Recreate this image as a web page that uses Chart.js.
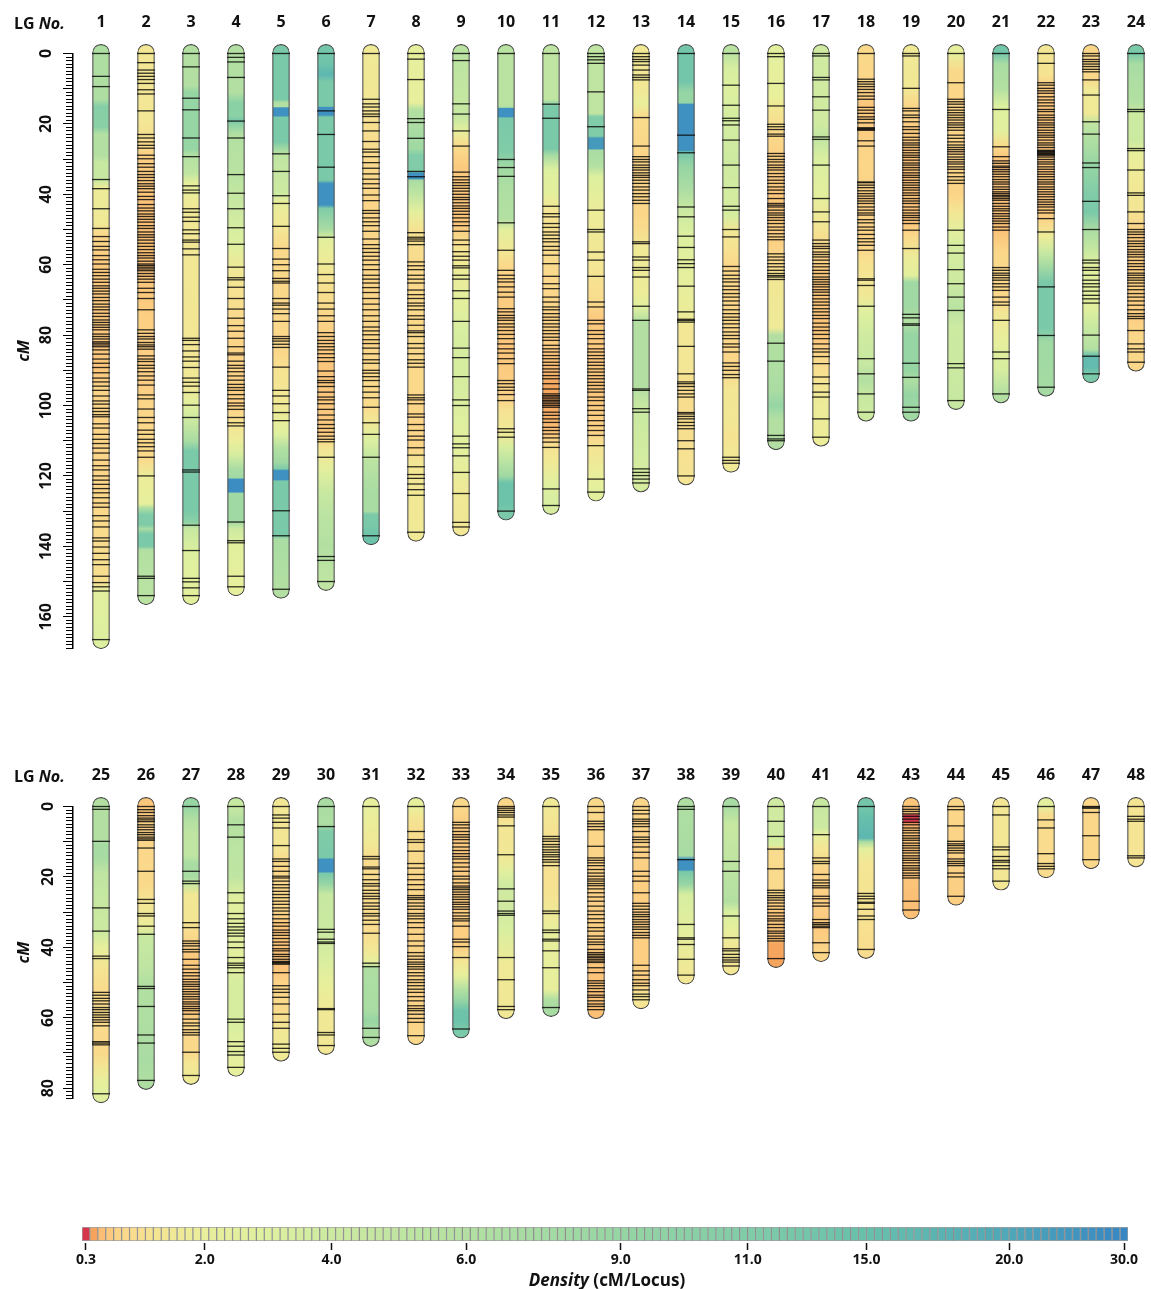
<!DOCTYPE html>
<html>
<head>
<meta charset="utf-8">
<title>Linkage map</title>
<script src="https://cdn.jsdelivr.net/npm/chart.js@4.4.1/dist/chart.umd.min.js"></script>
<style>
  body { margin: 0; background: #fff; font-family: 'Open Sans', 'DejaVu Sans', sans-serif; }
  #page { position: relative; width: 1151px; height: 1289px; overflow: hidden; }
  canvas { position: absolute; left: 0; }
  .lg { position: absolute; left: 14px; font-size: 16px; font-weight: bold; line-height: 20px; color: #111; }
  .cbTitle { position: absolute; left: 457px; width: 300px; top: 1269px; text-align: center; font-size: 17px; font-weight: bold; line-height: 22px; color: #111; }
</style>
</head>
<body>
<div id="page">
  <canvas id="topChart" width="1151" height="660" style="top:0px"></canvas>
  <canvas id="bottomChart" width="1151" height="360" style="top:753px"></canvas>
  <canvas id="scaleChart" width="1151" height="89" style="top:1200px"></canvas>
  <div class="lg" style="top:13px">LG <i>No.</i></div>
  <div class="lg" style="top:766px">LG <i>No.</i></div>
  <div class="cbTitle"><i>Density</i> (cM/Locus)</div>
</div>
<script>
// ---- data ----
var lgTop = ['1','2','3','4','5','6','7','8','9','10','11','12','13','14','15','16','17','18','19','20','21','22','23','24'];
var lgBottom = ['25','26','27','28','29','30','31','32','33','34','35','36','37','38','39','40','41','42','43','44','45','46','47','48'];

var lengthTop = [166.5, 154, 154, 151.5, 152.2, 150, 137, 136, 134.5, 130, 128.4, 124.6, 122, 120, 116.4, 110, 109, 101.9, 101.9, 98.6, 96.7, 94.8, 91, 87.7];
var lengthBottom = [81.6, 77.8, 76.4, 74.1, 69.8, 67.9, 65.6, 65.1, 63.2, 57.7, 57.1, 57.7, 54.9, 47.9, 45.3, 43.2, 41.5, 40.6, 29.4, 25.5, 21.2, 17.7, 15.1, 14.6];

// marker (locus) positions in cM
var markersTop = [
  [0,6.5,9.4,35.8,38.4,44.1,49.7,52,53.4,54.8,55.8,57.4,58.6,59.8,61.3,62.2,63.1,64.1,65,66,66.7,67.5,68.3,69.3,70.2,71.2,72,72.8,73.8,74.7,75.7,76.4,77.1,77.8,78.5,79.7,80.4,81.1,81.9,82.3,82.8,83.3,84.2,85.4,86.8,88,89.2,90.7,92.2,93.3,94.5,95.7,97.3,98.7,99.6,100.8,101.7,102.6,103.2,105.2,106.4,108.2,109.6,110.8,112.1,113.5,115.5,117.1,118.3,120,121.2,122.4,123.6,124.8,126.2,127.7,128.9,131.3,132.8,134.5,137.6,138.5,140.2,142,143.8,145.2,148.5,150.3,151.5,152.7,166.5],
  [0,2.6,4.7,5.6,6.5,7.4,8.5,10.3,11.5,16.3,23,24,25.1,26.1,26.9,28.9,29.9,31.3,32.3,33.5,34.4,35.2,36.1,37,37.7,38.4,39.4,40.6,41.5,42.9,43.9,44.7,45.6,46.3,47.1,47.9,48.9,49.7,50.7,51.5,52.2,53,53.9,54.8,55.7,56.6,57.4,58.1,59,59.8,60.2,60.7,61.2,61.7,62.5,63.3,64.1,65,66.7,67.9,69.6,72.8,78.5,79.5,80.4,81.1,82.1,82.8,83.3,84,85.9,86.8,87.5,88.6,89.4,90.4,91.6,92.8,94.2,97,98.1,101,103.4,104.9,107,108.2,109.6,110.6,111.7,112.9,114.7,120,148.5,149.1,154],
  [0,3.8,12.7,16,24,29.3,37.6,38.8,39.6,44.1,45.1,46.5,47.7,50.1,51.2,53,53.6,55.5,57.2,80.9,81.5,82.7,84.5,86.2,87.4,89.2,92.2,93.4,94.5,96.3,99.9,103.4,118.3,118.9,134,141.2,149.1,150.1,151.8,154],
  [0,1.1,2.4,6.8,19.2,24,34.4,39.7,44.1,49.5,54.2,60.7,63.7,64.3,66.4,69.6,72.6,75.2,77.3,78.9,80.9,83.3,85.1,85.6,87.4,88.6,89.4,90.4,91.6,92.8,94,94.9,95.7,96.9,98.1,99.3,100.1,101.1,103.4,104.9,105.8,133.1,138.4,139,148.5,151.5],
  [0,28.5,33.5,40.4,42.6,49.1,55.4,58.4,60,61.7,63.9,64.7,65.2,69.6,70.9,71.5,72.6,73.9,76.1,80.4,81,81.7,82.6,83.5,89.1,95.7,97.3,99.5,102,104.3,129.9,137,152.2],
  [0,16.3,23,32.3,52.2,59.8,62.8,65.2,67.9,70.9,72.6,74.5,76.1,79.3,80.4,81.5,82.4,83.3,84.2,85.3,86.4,87.5,90.2,91.8,92.9,93.5,94.6,96.2,97.6,98.4,99.5,101.1,102.7,104.1,105.4,106.5,107.6,108.7,109.6,110.3,114.7,142.9,144,150],
  [0,13,14.3,15.2,16.3,17.2,17.9,19.6,22,25,27.2,28,29.3,31,32.6,34.2,35.7,37,38.3,40.2,41.8,44.6,45.4,46.7,47.8,48.9,50.5,52.7,54.3,55.4,56.5,57.6,58.7,60,61.4,63,64.1,65.2,66.5,67.9,69.6,71.2,72.8,74.5,76.1,77.7,78.8,79.9,81.3,82.4,83.7,85.3,87,88,90,90.8,91.8,92.9,94.6,96.2,97.8,100.5,104.9,108.2,114.7,137],
  [0,1.6,7.4,18.5,19.6,24.1,33.5,35,50.9,52.2,52.7,53.3,54.3,59.2,60.3,61.4,63,64.1,65.2,67.2,68.5,69.6,70.9,71.7,72.8,74.5,75.5,77.2,78.8,79.3,80.4,82.4,83.7,85.3,87,88,89.1,97,97.8,98.4,99.5,102.4,103.3,105.4,107.1,108.7,109.8,112,114.1,117.4,119.6,120.7,122.3,123.9,125.5,136],
  [0,2,14.3,17.2,22,26.3,33.7,35,35.9,36.7,37.5,38.3,39.1,40,40.9,41.5,42.4,43.3,44,44.8,45.7,46.7,47.8,48.9,50.5,53,54.3,56.3,57.6,58.7,60.3,60.9,63,64.1,67.4,69.6,76.1,83.7,86.4,91.8,98.4,100,108.7,110.9,112,114.3,119,125,133.2,134.5],
  [0,30.1,32.4,34.9,48.1,55.9,61.6,63,64,64.9,66.3,67.8,69.2,72.5,73.4,74.4,75.1,75.8,76.8,77.7,78.7,79.8,81,82.5,83.9,85.1,86.7,88.1,92.9,93.8,94.8,95.7,96.9,98.6,106.6,107.6,109,130],
  [0,14.4,18.4,43.4,45.5,46.4,48.3,49.4,50.7,51.6,52.6,53.5,54.8,55.9,57.3,59.7,63.3,65.4,66.8,69.2,70.6,72,72.8,73.9,74.9,75.8,76.8,77.7,78.7,79.6,80.6,81.5,82.9,83.9,84.8,85.8,86.7,87.7,88.6,89.6,90.5,91.5,92.4,93.8,95.3,96.7,97.2,97.6,98.1,98.6,99,99.5,100,100.5,101.9,102.8,103.8,104.8,106.2,107.1,108.1,109.2,110.4,111.9,123.7,128.4],
  [0,0.9,1.8,2.8,10.9,20.8,44.5,50,50.7,56.4,58.7,63.3,70.6,72,75.8,76.8,78.7,79.8,81,82.5,83.9,84.8,85.8,86.7,87.7,88.6,89.6,90.5,91.5,92.4,93.4,94.3,95.3,96.2,97.6,98.6,100,101.4,102.8,104.3,105.7,107.1,108.5,111.4,120.9,124.6],
  [0,0.9,1.7,2.3,3.3,4.7,6.1,6.8,7.5,18.2,26.3,29.3,30.1,30.8,31.7,32.4,33.1,33.9,34.6,35.2,36,36.9,37.9,38.8,39.8,40.7,41.7,42.6,53.5,54,57.8,58.7,60.8,61.6,63.5,71.8,75.8,95.3,95.7,100.9,101.9,118,119,119.9,120.9,122],
  [0,23.2,28.2,43.6,46.4,51.9,55.1,58.6,59.7,60.8,66.1,73.4,75.5,75.8,76.3,83.2,91,93.3,93.8,94.6,95.7,96.7,97.6,102,102.4,103.1,103.8,104.8,105.7,106.6,110,112.3,120],
  [0,9,14.7,18.4,19.1,20.3,24.6,31.7,38.1,43.4,44.5,50,52.1,60.5,61.8,63,64,64.9,66.1,67.1,68.2,69.2,70.3,71.5,72.8,73.9,74.9,75.8,76.8,77.9,79.1,80.1,81,82.5,83.4,84.8,87.9,88.9,90,91.2,92.1,114.7,115.6,116.4],
  [0,0.9,8.5,14.9,20.1,20.8,21.6,22.9,23.5,28.4,29.2,30.1,30.8,31.7,32.4,33.1,34.1,35,36,36.9,37.9,38.8,39.8,41.2,42.6,43.1,43.6,44.5,45.3,45.9,46.6,47.4,48.3,49.3,50.2,51.2,52.1,52.9,56.9,57.8,58.7,59.7,60.6,61.6,62.5,63.1,63.5,64.2,82.3,87.4,108.5,109.5,110],
  [0,0.7,6.8,7.5,12.3,16.1,23.7,24.4,31.7,41.2,45,47.8,53,54,54.8,55.4,56.4,57.1,57.8,58.7,59.7,60.6,61.6,62.5,63.5,64.2,64.9,65.6,66.3,67.1,67.8,68.7,69.7,70.6,71.5,72.5,73.4,74.4,75.3,76.6,77.7,78.7,79.8,81,82.5,83.9,84.8,86.1,88.1,91.9,93.8,96.2,97.6,103.8,109],
  [0,7.3,8,8.7,9.4,10.2,11.1,12.1,13,15.3,16.1,17,18,18.7,19.7,21.1,21.3,21.6,21.8,24.8,26.3,36.5,36.7,37.4,38.1,39,39.8,40.5,41.2,41.9,42.6,43.6,44.5,45.3,45.9,47.2,48.1,49.3,50.2,51.4,52.6,53.5,54.5,55.9,64,64.4,65.9,71.8,86.7,91,96.7,101.9],
  [0,0.7,9.9,15.6,16.3,17.5,18.2,19.4,20.8,21.6,22.7,23.8,24.6,25.4,26,26.7,27.5,28.2,28.9,29.5,30.3,31.1,31.7,32.4,33.1,33.9,34.6,35.2,36,36.7,37.4,38.1,38.8,39.6,40.3,41.2,41.9,42.6,43.6,44.5,45.3,46,46.6,47.4,48.3,50.2,55.4,74.1,75.1,76.8,77.2,88,92,100.5,101.9],
  [0,8.3,13,13.7,14.4,15.3,16.1,16.8,17.5,18.2,18.9,19.7,20.3,21,21.8,23.2,24.1,25.1,26,26.7,27.3,27.9,28.6,29.4,30.1,30.8,31.4,32.2,32.9,33.9,35,36,36.9,50.2,54.5,56.7,61.4,65.4,69.2,73,88.1,89.3,98.6],
  [0,15.9,26.5,29.3,30.5,31.2,32,32.4,33,33.6,34.3,35,35.8,36.5,37.1,37.9,38.6,39.3,39.8,40.3,40.7,41.2,41.7,42.6,43.4,44.1,44.7,45.5,46.2,46.9,47.6,48.3,49.3,50.2,60.8,61.6,62.4,63,63.7,64.4,65.4,66.3,67.3,69.2,70.6,71.5,75.8,84.8,86.7,96.7],
  [0,2.8,8.3,9,9.9,10.6,11.3,12.3,13.2,14,14.9,15.9,16.5,17.5,18.2,18.9,19.7,20.3,21,21.8,22.5,23.2,23.8,24.6,25.4,26,26.7,27.5,27.7,27.9,28.2,28.4,28.7,28.9,29.4,30.1,30.8,31.4,32.2,32.9,33.6,34.3,35,35.8,36.5,37.1,37.9,38.6,39.3,40,40.7,41.5,42.2,42.9,43.6,44.5,45.3,46.9,50.7,66.3,80.1,94.8],
  [0,0.7,1.7,2.3,3,3.7,4.5,5.2,7.5,11.8,19.4,22.9,31.1,32.4,42,50,58.7,59.5,60.8,61.6,63,64.4,65.4,66.3,67.5,68.7,69.7,70.9,80,86,91],
  [0,15.9,16.5,27,27.6,33.1,39.6,40.3,45,48.3,50,50.7,51.4,52.3,53.3,54,54.8,55.7,56.4,57.1,57.8,58.8,59.7,60.5,61.4,62.4,63,63.7,64.4,65.2,66.1,67.1,68.2,69.2,70.3,71.5,72.8,73.9,74.7,75.3,78.7,82.5,83.9,84.8,87.7]
];

var markersBottom = [
  [0,0.8,9.9,28.8,35.4,42.5,43.2,52.8,53.6,54.5,55.2,56.1,57.1,57.7,58.5,59.2,59.9,60.6,61.3,62.3,66.8,67.2,67.7,81.6],
  [0,0.9,1.7,2.6,3.3,3.8,4.3,5.2,5.9,6.6,7.4,8,8.7,9.2,9.6,11.8,18.4,26.4,27.5,30.4,31.1,34,36.3,51.1,51.7,56.8,64.9,67.2,77.8],
  [0,18.4,21.2,21.9,33,34.4,38.2,38.9,39.6,40.6,41.3,43.4,45.1,46.2,47.2,48.1,49.1,49.8,50.5,51.1,51.9,52.6,53.3,54,54.7,55.5,56.1,56.8,57.4,58,59,60.4,61.5,62.3,63.4,64.2,64.9,69.8,76.4],
  [0,5.2,8.7,24.5,27.4,30.4,31.9,33.2,34.2,35.1,36,36.8,38.5,40.1,42.9,44.5,45.1,45.8,47.2,60.4,61.3,66.8,68.1,69.6,70.6,74.1],
  [0,2.4,3.3,4.5,6.1,11.1,14.9,15.6,17,18.4,19.8,20.3,21.2,22.2,23.1,24.1,25,25.9,26.9,27.8,28.8,29.7,30.7,31.9,33,34,35.1,35.8,36.6,37.5,38.5,39.4,40.4,41,42,42.6,43.4,44,44.3,44.5,44.8,47.2,50.9,51.9,52.8,54.2,56.1,59,61.3,63,67.5,68.7,69.8],
  [0,5.7,34.9,35.7,37.7,38.5,38.9,57.4,57.7,64.2,64.9,67.9],
  [0,14.2,14.9,17.2,17.7,19.3,20.8,21.9,22.6,23.8,24.7,25.5,26.2,27.4,28.3,29.2,30.4,31.1,32.3,33.5,36,44.5,45.5,63,65.6],
  [0,7.1,9.4,10.2,12.7,16.2,17.5,19.3,20.8,22.2,23.6,25.3,25.9,26.4,27.4,28.3,29.2,30.4,31.1,31.9,33,34.4,36.3,38.2,39.6,41.5,42.5,43.4,44.2,44.8,45.5,46.2,47.2,48.1,49.2,50,50.9,51.9,52.8,54,55.2,56.6,57.4,58,59,60.2,61.3,65.1],
  [0,4.5,5.2,6.1,7.1,8,8.7,9.4,10.4,11.5,12.5,13.4,14.2,14.9,16,17.2,18.4,19.8,20.6,21.7,22.6,23.1,23.6,24.3,25,25.7,26.4,27.2,27.8,28.5,29.2,30.2,31.1,31.9,32.5,34,37.7,38.5,39.8,42.9,63.2],
  [0,0.5,1.1,1.7,2.4,3,5.5,13.7,23.4,26.9,29.7,30.4,30.9,42.9,49.2,56.8,57.7],
  [0,8.5,9.2,9.9,10.8,11.5,12.3,13,13.7,14.3,15.1,15.8,16.8,29.7,30.4,35.1,35.8,37.7,38.2,41,45.8,57.1],
  [0,1.7,4.2,4.9,5.7,6.6,11.3,14.6,15.3,16,16.8,17.9,18.9,19.8,20.6,21.2,21.9,22.5,23.4,24.5,25.7,26.9,28.3,29.7,30.7,31.9,33,34.4,35.4,36.8,37.7,38.5,39.2,40.6,41.5,42,42.5,42.9,43.4,43.9,44.3,45.8,47.2,49.5,50.2,50.9,51.7,52.6,53.6,54.2,55.2,56.1,56.8,57.7],
  [0,1.1,2.1,3.6,4.2,4.9,5.7,7.1,8.7,9.4,10.2,11.5,13,14.6,18.4,19.8,21.2,24.5,27.5,28.3,29.2,30,30.7,31.3,32.1,32.8,33.5,34.2,34.9,35.8,36.6,37.3,45.1,46.7,47.9,49.2,50.2,50.9,52.1,53.3,54,54.9],
  [0,0.8,15.1,33.5,37.3,37.7,39.2,43.4,47.9],
  [0,15.6,18.4,31.1,37.3,40.4,41,42,42.9,43.6,44.2,45.3],
  [0,4.2,8.5,12.1,17.7,23.8,24.5,25.3,25.9,26.6,27.4,28.3,29.2,30.2,31.1,31.9,32.5,33.5,34.4,35.4,36,36.8,37.5,38.2,43.2],
  [0,8,14.6,15.6,16.2,19.3,20.9,21.7,22.5,23.1,25.5,26.2,27.4,28.3,32.1,33,33.5,34,34.4,38.7,41.5],
  [0,24.7,25.5,26.2,27.2,27.5,29.2,31.1,32.1,40.6],
  [0,0.8,1.4,2.1,2.8,3.6,4.5,5.2,6.1,6.8,7.5,8.3,9,9.6,10.4,11.1,11.8,12.5,13.2,14,14.7,15.3,16,16.8,17.5,18.1,18.9,19.6,20.3,26.9,29.4],
  [0,0.9,5.5,9.9,10.6,11.1,11.8,12.5,13.2,14.9,15.6,16.2,16.8,18.9,20,25.5],
  [0,2.4,11.5,12.3,14.2,15.3,15.8,16.8,17.7,21.2],
  [0,3.8,6.1,13.4,16.2,17,17.7],
  [0,0.2,0.5,1.7,8.3,15.1],
  [0,2.8,3.6,4.2,14,14.6]
];

// local density along each group: [cM, cM/locus]
var densityTop = [
  [[0,6.5],[13,6.5],[15,10.5],[21,10],[23,6],[29,6],[31,4.5],[36,4.5],[38,1.8],[48,1.6],[52,0.85],[60,0.65],[90,0.62],[95,0.75],[125,0.8],[135,0.95],[150,1.1],[153,2.6],[166.5,3]],
  [[0,1.4],[20,1.4],[25,1.0],[30,0.7],[45,0.55],[60,0.55],[75,0.7],[95,0.68],[100,0.8],[115,0.9],[120,1.8],[128,2.2],[129,6],[131,11],[134,11],[135,7],[136.5,12],[140,12],[141,6],[154,5.5]],
  [[0,6],[9,6],[11,9],[27,9],[29,6],[34,5],[37,2.2],[45,1.5],[60,1.5],[80,1.4],[95,1.6],[100,2.8],[105,4.5],[110,7],[113,12],[130,12],[133,10],[135,4.5],[142,3],[154,2.4]],
  [[0,6],[11,6],[14,10],[18,10],[19,13],[20,10],[23,6],[35,5.5],[45,4],[55,2.8],[62,1.5],[70,1.1],[80,0.75],[100,0.7],[105,1.2],[110,1.9],[114,3.5],[118,7],[120.5,8],[121,28],[124.5,28],[125,8],[133,8],[135,4],[140,2.6],[151.5,2.2]],
  [[0,12],[13,12],[14,6],[15.2,6],[15.4,27],[17.8,27],[18,12],[25,12],[27,8],[29,5],[40,4],[42,2.2],[50,1.4],[55,0.9],[85,0.85],[90,1.2],[100,1.6],[108,2.8],[112,6],[116,8],[118,11],[118.5,27],[121,27],[121.5,12],[137,12],[138,7],[152.2,6]],
  [[0,13],[3,14],[6,17],[8,12],[15,12],[15.3,27],[17.5,27],[18,12],[36,12],[37,27],[43,27],[44,11],[50,7],[53,2.5],[58,1.8],[65,1.2],[80,0.7],[90,0.6],[108,0.65],[112,1.3],[118,2.5],[125,4.5],[132,5.5],[140,6],[150,5]],
  [[0,1.6],[12,1.5],[20,1.1],[40,0.8],[80,0.8],[100,0.95],[105,1.6],[110,3.2],[116,5.5],[125,7],[130,7],[131,12],[134,12],[137,14]],
  [[0,2.2],[14,2.2],[16,6],[22,7],[27,8],[29,11],[33.5,11],[34,27],[35.5,27],[36,7],[40,5],[45,2.5],[50,1.2],[60,0.9],[95,0.9],[100,0.75],[112,0.8],[116,1.4],[136,1.6]],
  [[0,5.5],[5,5],[18,4.5],[22,2.5],[26,1.0],[32,0.65],[48,0.6],[55,1.2],[62,1.8],[72,2.6],[80,3.5],[95,3.5],[105,2.8],[115,2.4],[125,1.6],[134.5,1.5]],
  [[0,5.5],[14,5.5],[15.3,6],[15.5,27],[18,27],[18.3,12],[28,11],[32,8],[38,6.5],[47,6],[50,2.5],[56,1.5],[60,0.9],[65,0.7],[85,0.6],[98,0.75],[102,1.3],[108,1.6],[112,3.5],[117,6],[120,8],[122,14],[128,14],[130,12]],
  [[0,5],[13,5],[15,12],[27,12],[29,7],[33,3],[40,2.5],[44,1.4],[55,1.0],[70,0.85],[82,0.7],[88,0.55],[95,0.42],[102,0.45],[108,0.6],[112,1.2],[116,1.6],[122,2.8],[128.4,3.5]],
  [[0,5],[12,5],[17,5],[18,11],[23.5,11],[24,24],[27,24],[27.5,7],[32,6],[35,3],[45,1.8],[60,1.4],[70,1.0],[75,0.65],[95,0.6],[108,0.75],[112,1.3],[120,2],[124.6,2.6]],
  [[0,1.5],[10,1.5],[14,2.0],[18,1.0],[28,0.8],[45,0.8],[50,1.0],[55,1.6],[68,1.8],[72,2.8],[76,6],[95,6],[100,4.5],[110,3.8],[122,3.5]],
  [[0,13],[8,13],[11,9],[14,9],[14.5,27],[27.5,27],[28,13],[32,9],[38,7],[45,4],[52,3],[62,2.4],[74,1.8],[78,1.4],[90,1.4],[95,1.0],[110,1.1],[120,1.3]],
  [[0,5.5],[4,3.5],[10,3],[16,3.5],[30,4],[46,3.5],[50,1.5],[55,1.2],[60,0.85],[90,0.8],[95,1.4],[104,1.5],[108,1.2],[116.4,1.6]],
  [[0,2.4],[12,2.0],[16,1.4],[22,0.9],[30,0.7],[40,0.6],[53,0.7],[58,0.85],[65,1.5],[78,1.7],[80,6],[92,6.5],[96,7],[100,9],[104,6],[110,6]],
  [[0,3.8],[20,3.8],[24,5],[30,3.2],[40,2.5],[48,1.5],[55,0.9],[65,0.6],[80,0.6],[86,0.85],[92,1.2],[100,1.8],[109,1.8]],
  [[0,0.9],[8,0.8],[15,0.6],[28,0.75],[33,0.8],[40,0.7],[55,0.75],[60,1.2],[68,1.5],[73,2.8],[80,3.8],[88,4.5],[93,6],[97,4.5],[101.9,4]],
  [[0,1.6],[10,1.5],[15,0.8],[30,0.55],[48,0.6],[52,0.9],[58,1.8],[63,2.5],[65,8],[72,8],[76,6],[80,9],[90,9],[93,6.5],[97,9],[101.9,8]],
  [[0,2.2],[5,0.9],[15,0.75],[40,0.75],[45,1.4],[50,2.4],[55,3.5],[65,4],[72,5.5],[78,4],[90,4.2],[98.6,4.5]],
  [[0,13],[3,7],[10,6],[15,3],[22,2.6],[26,1.0],[30,0.6],[50,0.55],[56,0.8],[60,0.9],[70,0.8],[74,1.5],[82,2.2],[90,3.5],[96.7,6]],
  [[0,1.4],[6,1.2],[10,0.65],[20,0.6],[45,0.6],[48,0.9],[52,1.8],[56,4],[60,7],[65,12],[78,12],[82,8],[94.8,7.5]],
  [[0,0.8],[7,0.9],[10,1.6],[17,1.6],[20,5],[25,6.5],[32,9],[40,11],[45,12],[50,7],[56,4.5],[60,2.8],[72,2.6],[78,4.5],[84,6],[86,16],[89,16],[91,12]],
  [[0,12],[3,7],[14,6],[17,4],[25,4],[28,2.2],[36,1.6],[44,1.4],[48,0.9],[52,0.65],[75,0.7],[80,0.85],[87.7,0.85]]
];

var densityBottom = [
  [[0,6],[9,6],[11,7.5],[15,7],[19,5],[28,4.5],[36,4],[40,2.2],[45,1.4],[52,0.95],[70,0.9],[74,1.4],[78,2.2],[81.6,2.8]],
  [[0,0.6],[4,0.7],[12,0.85],[22,0.9],[28,1.4],[34,1.8],[37,4.5],[45,5],[50,6],[62,6.5],[72,7],[77.8,6.5]],
  [[0,9],[4,6],[8,5],[14,5],[16,7],[20,7],[22,4.5],[25,1.5],[32,1.4],[36,0.95],[42,0.65],[58,0.6],[62,0.8],[70,0.9],[73,1.4],[76.4,1.6]],
  [[0,4.5],[4,6],[10,5.5],[20,5],[26,2.8],[45,2.4],[50,3.5],[60,3.5],[66,2.8],[74.1,2.2]],
  [[0,1.5],[12,1.4],[16,0.9],[30,0.8],[34,0.6],[45,0.55],[50,0.75],[58,0.95],[64,1.5],[69.8,1.6]],
  [[0,7],[5,6.5],[7,11],[14.5,12],[15,27],[18.5,27],[19,12],[22,9],[25,4.5],[35,4.2],[42,3.5],[50,2.2],[57,1.6],[67.9,1.5]],
  [[0,2.2],[10,1.6],[15,1.0],[35,1.0],[40,1.4],[44,2.2],[46,6.5],[58,7],[61,9],[63,7],[65.6,6.5]],
  [[0,2.2],[3,1.4],[8,1.0],[20,0.8],[40,0.75],[62,0.75],[65.1,0.9]],
  [[0,0.9],[6,0.65],[40,0.7],[44,1.4],[48,2.2],[52,6],[55,9],[58,14],[61,14],[63.2,12]],
  [[0,0.8],[5,1.4],[14,1.5],[18,2.4],[22,3.8],[30,3.8],[35,3.3],[45,1.6],[57.7,1.5]],
  [[0,1.6],[10,1.1],[25,1.2],[30,1.6],[36,2.2],[52,2.2],[55,6.5],[57.1,7]],
  [[0,0.9],[5,0.8],[15,0.75],[35,0.7],[45,0.6],[57.7,0.55]],
  [[0,0.8],[5,0.75],[20,0.7],[50,0.7],[53,1.2],[54.9,1.3]],
  [[0,6.5],[14,7],[15,27],[18,27],[18.5,12],[22,9],[25,3.5],[35,2.4],[47.9,1.5]],
  [[0,7],[5,4.5],[15,5],[27,6],[30,3.3],[35,2.2],[40,1.5],[45.3,1.4]],
  [[0,3.8],[8,3.8],[11,3.3],[12,1.0],[25,0.9],[30,0.6],[38,0.55],[39,0.42],[43.2,0.42]],
  [[0,4.5],[6,4],[8,2.2],[12,1.4],[18,0.75],[35,0.65],[41.5,0.8]],
  [[0,13],[3,15],[9,17],[10,7],[12,2.5],[16,1.4],[30,1.2],[40.6,1.0]],
  [[0,0.6],[2,0.6],[2.5,0.3],[4.2,0.3],[5,0.45],[7,0.6],[20,0.6],[25,0.55],[29.4,0.55]],
  [[0,0.8],[25.5,0.7]],
  [[0,1.4],[21.2,1.4]],
  [[0,2.4],[2.5,1.0],[17.7,1.0]],
  [[0,0.85],[15.1,0.85]],
  [[0,1.3],[14.6,1.3]]
];

// colour key
var densityTicks = [0.3, 2.0, 4.0, 6.0, 9.0, 11.0, 15.0, 20.0, 30.0];
var densityTickCells = [0.5, 15.5, 31.5, 48.5, 68, 84, 99, 117, 131.5];
var paletteCells = [0.5, 1.5, 2.5, 4.5, 8.5, 15.5, 24.5, 31.5, 48.5, 68, 84, 99, 117, 131.5];
var paletteColors = ['#d6364c', '#f5a35d', '#fbbe74', '#fcd488', '#f6e392', '#e9ef9b', '#dcf0a0', '#cdeaa1', '#b3e0a2', '#96d5a4', '#80cca8', '#67c0ab', '#4fa7b8', '#3787c3'];
var keyCells = 132;

var FONT = "'Open Sans', 'DejaVu Sans', sans-serif";
var CAP = 2.6;

function hexRgb(h) {
  return [parseInt(h.slice(1, 3), 16), parseInt(h.slice(3, 5), 16), parseInt(h.slice(5, 7), 16)];
}

function colorForCell(c) {
  if (c <= paletteCells[0]) return paletteColors[0];
  for (var i = 1; i < paletteCells.length; i++) {
    if (c <= paletteCells[i]) {
      var t = (c - paletteCells[i - 1]) / (paletteCells[i] - paletteCells[i - 1]);
      var a = hexRgb(paletteColors[i - 1]), b = hexRgb(paletteColors[i]);
      return 'rgb(' + Math.round(a[0] + (b[0] - a[0]) * t) + ',' + Math.round(a[1] + (b[1] - a[1]) * t) + ',' + Math.round(a[2] + (b[2] - a[2]) * t) + ')';
    }
  }
  return paletteColors[paletteColors.length - 1];
}

function cellForDensity(d) {
  if (d <= densityTicks[0]) return densityTickCells[0];
  for (var i = 1; i < densityTicks.length; i++) {
    if (d <= densityTicks[i]) {
      var t = (d - densityTicks[i - 1]) / (densityTicks[i] - densityTicks[i - 1]);
      return densityTickCells[i - 1] + t * (densityTickCells[i] - densityTickCells[i - 1]);
    }
  }
  return densityTickCells[densityTickCells.length - 1];
}

function densityColor(d) {
  return colorForCell(cellForDensity(d));
}

function barGradient(ctx, lengths, density) {
  var chart = ctx.chart;
  var yScale = chart.scales && chart.scales.y;
  var i = ctx.dataIndex;
  if (!yScale || i === undefined || !chart.chartArea) return '#e9ef9b';
  var top = -CAP, bottom = lengths[i] + CAP;
  var p0 = yScale.getPixelForValue(top), p1 = yScale.getPixelForValue(bottom);
  if (!isFinite(p0) || !isFinite(p1) || p0 === p1) return '#e9ef9b';
  var g = chart.ctx.createLinearGradient(0, p0, 0, p1);
  density[i].forEach(function(stop) {
    var t = Math.min(1, Math.max(0, (stop[0] - top) / (bottom - top)));
    g.addColorStop(t, densityColor(stop[1]));
  });
  return g;
}

function buildPanel(canvasId, names, lengths, markers, density, yMax, labelPad, bottomPad) {
  var points = [];
  markers.forEach(function(list, i) {
    list.forEach(function(cm) { points.push({ x: i + 1, y: cm }); });
  });
  var bars = lengths.map(function(len, i) { return { x: i + 1, y: [-CAP, len + CAP] }; });

  return new Chart(document.getElementById(canvasId), {
    type: 'bar',
    data: {
      datasets: [{
        type: 'scatter',
        data: points,
        pointStyle: 'line',
        pointRadius: 9,
        pointHoverRadius: 9,
        pointBorderWidth: 1.3,
        pointBorderColor: 'rgba(10,10,10,0.85)',
        clip: false
      }, {
        type: 'bar',
        data: bars,
        barThickness: 17,
        borderRadius: 9,
        borderSkipped: false,
        borderWidth: 1.2,
        borderColor: '#4a4a4a',
        clip: false,
        backgroundColor: function(ctx) { return barGradient(ctx, lengths, density); }
      }]
    },
    options: {
      responsive: false,
      animation: false,
      events: [],
      layout: { autoPadding: false, padding: { top: 13.5, left: 0, right: 0, bottom: bottomPad } },
      plugins: { legend: { display: false }, tooltip: { enabled: false } },
      scales: {
        x: {
          type: 'linear',
          position: 'top',
          min: 0.3778,
          max: 24.3333,
          offset: false,
          grid: { display: false, drawTicks: false, offset: false },
          border: { display: false },
          ticks: {
            stepSize: 1,
            includeBounds: false,
            autoSkip: false,
            maxRotation: 0,
            padding: 21,
            color: '#111',
            font: { family: FONT, size: 16, weight: 'bold' },
            callback: function(v) {
              var k = Math.round(v);
              return Math.abs(v - k) < 1e-6 && names[k - 1] ? names[k - 1] : '';
            }
          },
          afterFit: function(scale) { scale.height = 40; scale.paddingLeft = 0; scale.paddingRight = 0; }
        },
        y: {
          type: 'linear',
          reverse: true,
          min: 0,
          max: yMax,
          border: { display: true, color: '#000', width: 1.5 },
          grid: {
            drawOnChartArea: false,
            drawTicks: true,
            tickLength: 10,
            tickColor: '#000',
            tickWidth: 1,
            tickBorderDash: function(ctx) {
              var v = ctx.tick ? ctx.tick.value : 0;
              return Math.abs(v / 10 - Math.round(v / 10)) < 1e-6 ? [] : [0, 3, 7, 50];
            }
          },
          ticks: {
            stepSize: 1,
            autoSkip: false,
            minRotation: 90,
            maxRotation: 90,
            crossAlign: 'center',
            padding: labelPad,
            color: '#111',
            font: { family: FONT, size: 16, weight: 'bold' },
            callback: function(v) {
              return Math.abs(v / 20 - Math.round(v / 20)) < 1e-6 ? String(v) : '';
            }
          },
          title: {
            display: true,
            text: 'cM',
            color: '#111',
            font: { family: FONT, size: 16, weight: 'bold', style: 'italic' },
            padding: { top: 15, bottom: 0 }
          },
          afterFit: function(scale) { scale.width = 73; scale.paddingTop = 0; scale.paddingBottom = 0; }
        }
      }
    }
  });
}

buildPanel('topChart', lgTop, lengthTop, markersTop, densityTop, 169, 3, 11.6);
buildPanel('bottomChart', lgBottom, lengthBottom, markersBottom, densityBottom, 83, 5, 14.3);

// colour key strip
var keyData = [];
for (var c = 0; c < keyCells; c++) keyData.push({ x: c + 0.5, y: 1 });

new Chart(document.getElementById('scaleChart'), {
  type: 'bar',
  data: {
    datasets: [{
      data: keyData,
      backgroundColor: keyData.map(function(p) { return colorForCell(p.x); }),
      borderColor: 'rgba(70,70,70,0.5)',
      borderWidth: 1,
      borderSkipped: false,
      categoryPercentage: 1,
      barPercentage: 1
    }]
  },
  options: {
    responsive: false,
    animation: false,
    events: [],
    layout: { autoPadding: false, padding: { left: 82, right: 23, top: 27, bottom: 0 } },
    plugins: { legend: { display: false }, tooltip: { enabled: false } },
    scales: {
      x: {
        type: 'linear',
        position: 'bottom',
        min: 0,
        max: keyCells,
        offset: false,
        grid: { display: true, drawOnChartArea: false, offset: false, tickLength: 9, tickColor: '#111', tickWidth: 1.5, tickBorderDash: [0, 2, 7, 20] },
        border: { display: false },
        afterBuildTicks: function(scale) {
          scale.ticks = densityTickCells.map(function(v) { return { value: v }; });
        },
        ticks: {
          autoSkip: false,
          maxRotation: 0,
          padding: 2,
          color: '#111',
          font: { family: FONT, size: 14, weight: 'bold' },
          callback: function(v, i) { return densityTicks[i].toFixed(1); }
        },
        afterFit: function(scale) { scale.height = 48; scale.paddingLeft = 0; scale.paddingRight = 0; }
      },
      y: { display: false, min: 0, max: 1 }
    }
  }
});
</script>
</body>
</html>
